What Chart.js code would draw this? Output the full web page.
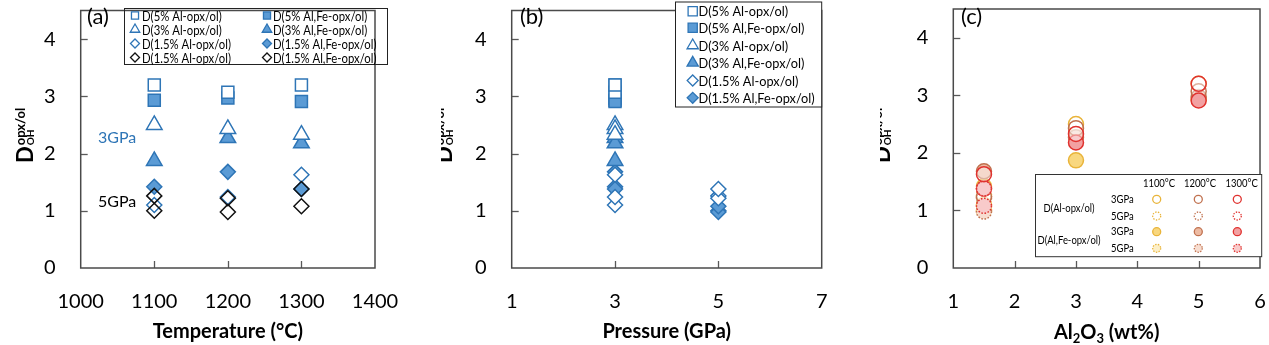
<!DOCTYPE html>
<html><head><meta charset="utf-8">
<script src="https://cdn.jsdelivr.net/npm/chart.js@4/dist/chart.umd.min.js"></script>
<style>
html,body{margin:0;padding:0;background:#fff;width:1269px;height:345px;overflow:hidden}
canvas{position:absolute;top:0}
</style></head><body>
<canvas id="ca" style="left:0"></canvas>
<canvas id="cb" style="left:441px"></canvas>
<canvas id="cc" style="left:880px"></canvas>
<script>
// ---------- categories ----------
const temperatures = [1100, 1200, 1300];   // °C
const pressures = [3, 5];                  // GPa
const al2o3 = [5, 3, 1.5];                 // wt% Al2O3 of the 5%, 3%, 1.5% Al-opx
// ---------- series values: D_OH(opx/ol), one value per temperature ----------
const d5Al_3GPa    = [3.20, 3.07, 3.20];
const d5AlFe_3GPa  = [2.93, 2.97, 2.91];
const d3Al_3GPa    = [2.50, 2.43, 2.33];
const d3AlFe_3GPa  = [1.87, 2.27, 2.18];
const d15Al_3GPa   = [1.10, 1.24, 1.63];
const d15AlFe_3GPa = [1.42, 1.68, 1.38];
const d15Al_5GPa   = [1.26, 1.22, 1.38];
const d15AlFe_5GPa = [1.00, 0.98, 1.08];
// ---------- tick labels ----------
const yTicks  = [0, 1, 2, 3, 4];
const xTicksA = [1000, 1100, 1200, 1300, 1400];
const xTicksB = [1, 3, 5, 7];
const xTicksC = [1, 2, 3, 4, 5, 6];
// ---------- labels ----------
const seriesLabels = ['D(5% Al-opx/ol)','D(5% Al,Fe-opx/ol)','D(3% Al-opx/ol)','D(3% Al,Fe-opx/ol)','D(1.5% Al-opx/ol)','D(1.5% Al,Fe-opx/ol)'];
const tempLabels = ['1100°C','1200°C','1300°C'];
const pressureLabels = ['3GPa','5GPa'];

// ---------- styles ----------
const FONT = "Lato, 'Open Sans', 'DejaVu Sans', sans-serif";
const BLUE = '#2E75B6', BLUE_FILL = '#5B9BD5', BLK = '#111';
const SQ = 8.5, TRI = 9, DIA = 7.5, CIR = 7.5;
const tempColors = [
  {bc:'#E9B43A', f3:'#F8D77F', f5:'#FCEFC8'},
  {bc:'#C0714F', f3:'#EDBBA3', f5:'#F7DDD0'},
  {bc:'#E0322F', f3:'#F2A1A2', f5:'#F8CACA'}
];

function ds(label, data, ps, r, bg, bc, extra) {
  return Object.assign({label, data, pointStyle:ps, pointRadius:r, pointHoverRadius:r,
    backgroundColor:bg, borderColor:bc, pointBorderWidth:1.5, borderWidth:1.5, showLine:false}, extra||{});
}
const byT = arr => temperatures.map((t,i)=>({x:t, y:arr[i]}));
const atP = (p, arr) => arr.map(v=>({x:p, y:v}));

// ---------- panel A datasets (first = drawn on top) ----------
const dsA = [
  ds('D(1.5% Al-opx/ol) 5GPa', byT(d15Al_5GPa), 'rectRot', DIA, 'rgba(255,255,255,0)', BLK),
  ds('D(1.5% Al,Fe-opx/ol) 5GPa', byT(d15AlFe_5GPa), 'rectRot', DIA, 'rgba(255,255,255,0)', BLK),
  ds(seriesLabels[4], byT(d15Al_3GPa), 'rectRot', DIA, '#fff', BLUE),
  ds(seriesLabels[5], byT(d15AlFe_3GPa), 'rectRot', DIA, BLUE_FILL, BLUE),
  ds(seriesLabels[2], byT(d3Al_3GPa), 'triangle', TRI, '#fff', BLUE),
  ds(seriesLabels[3], byT(d3AlFe_3GPa), 'triangle', TRI, BLUE_FILL, BLUE),
  ds(seriesLabels[0], byT(d5Al_3GPa), 'rect', SQ, '#fff', BLUE),
  ds(seriesLabels[1], byT(d5AlFe_3GPa), 'rect', SQ, BLUE_FILL, BLUE)
];
// ---------- panel B datasets ----------
const dsB = [
  ds(seriesLabels[0], atP(pressures[0], d5Al_3GPa), 'rect', SQ, '#fff', BLUE),
  ds(seriesLabels[1], atP(pressures[0], d5AlFe_3GPa), 'rect', SQ, BLUE_FILL, BLUE),
  ds(seriesLabels[2], atP(pressures[0], d3Al_3GPa), 'triangle', TRI, '#fff', BLUE),
  ds(seriesLabels[3], atP(pressures[0], d3AlFe_3GPa), 'triangle', TRI, BLUE_FILL, BLUE),
  ds(seriesLabels[4], atP(pressures[0], d15Al_3GPa).concat(atP(pressures[1], d15Al_5GPa)), 'rectRot', DIA, '#fff', BLUE),
  ds(seriesLabels[5], atP(pressures[0], d15AlFe_3GPa).concat(atP(pressures[1], d15AlFe_5GPa)), 'rectRot', DIA, BLUE_FILL, BLUE)
];
// ---------- panel C datasets (1300 °C first so it lies on top) ----------
const dsC = [];
[2,1,0].forEach(i=>{
  const t = temperatures[i], c = tempColors[i];
  dsC.push(ds('D(Al-opx/ol) 3GPa '+t, [{x:al2o3[0],y:d5Al_3GPa[i]},{x:al2o3[1],y:d3Al_3GPa[i]},{x:al2o3[2],y:d15Al_3GPa[i]}], 'circle', CIR, 'rgba(255,255,255,0.45)', c.bc));
  dsC.push(ds('D(Al-opx/ol) 5GPa '+t, [{x:al2o3[2],y:d15Al_5GPa[i]}], 'circle', CIR, 'rgba(255,255,255,0.45)', c.bc, {dotted:true}));
  dsC.push(ds('D(Al,Fe-opx/ol) 3GPa '+t, [{x:al2o3[0],y:d5AlFe_3GPa[i]},{x:al2o3[1],y:d3AlFe_3GPa[i]},{x:al2o3[2],y:d15AlFe_3GPa[i]}], 'circle', CIR, c.f3, c.bc));
  dsC.push(ds('D(Al,Fe-opx/ol) 5GPa '+t, [{x:al2o3[2],y:d15AlFe_5GPa[i]}], 'circle', CIR, c.f5, c.bc, {dotted:true}));
});

// ---------- drawing helpers ----------
function txt(ctx, s, x, y, size, color, opt) {
  opt = opt || {};
  ctx.font = (opt.bold?'bold ':'') + size + 'px ' + FONT;
  ctx.fillStyle = color; ctx.textAlign = opt.align || 'left'; ctx.textBaseline = opt.base || 'middle';
  const w = ctx.measureText(s).width;
  if (opt.sq) ctx.fillText(s, x, y, w*opt.sq); else ctx.fillText(s, x, y);
}
function marker(ctx, st, x, y, r, dotted) {
  ctx.save();
  ctx.fillStyle = st.backgroundColor; ctx.strokeStyle = st.borderColor; ctx.lineWidth = 1.3;
  if (dotted) ctx.setLineDash([1.4,1.4]);
  Chart.helpers.drawPoint(ctx, {pointStyle: st.pointStyle, radius: r, rotation:0, borderWidth:1.3}, x, y);
  ctx.restore();
}
function yTitle(ctx, bx, by) {
  ctx.save();
  ctx.translate(bx, by); ctx.rotate(-Math.PI/2);
  ctx.fillStyle = '#000'; ctx.textAlign='left'; ctx.textBaseline='alphabetic';
  ctx.font = 'bold 22px ' + FONT; ctx.fillText('D', 0, 0);
  const w = ctx.measureText('D').width + 1;
  ctx.font = 'bold 13px ' + FONT; ctx.fillText('opx/ol', w, -8);
  ctx.font = 'bold 10px ' + FONT; ctx.fillText('OH', w, 1);
  ctx.restore();
}

const decoCfg = {
  ca: {letter:[87,17], yt:[33,163], xTicks:xTicksA, draw(ctx){
        txt(ctx, pressureLabels[0], 98, 138, 16, BLUE);
        txt(ctx, pressureLabels[1], 98, 202, 16, '#000');
        ctx.strokeStyle='#222'; ctx.lineWidth=1; ctx.strokeRect(124.5, 8.5, 263, 56);
        const rows=[15,29,43,57];
        const pairs=[[6,7],[4,5],[2,3],[0,1]];
        const names=[[seriesLabels[0],seriesLabels[1]],[seriesLabels[2],seriesLabels[3]],[seriesLabels[4],seriesLabels[5]],[seriesLabels[4],seriesLabels[5]]];
        const rs={rect:5,triangle:5.5,rectRot:4.5};
        rows.forEach((y,k)=>{
          [0,1].forEach(c=>{
            const st=dsA[pairs[k][c]]; const mx=c?267:135, tx=c?273:142;
            marker(ctx, st, mx, y+0.5, rs[st.pointStyle]);
            txt(ctx, names[k][c], tx, y+1, 14, '#000', {sq:0.81});
          });
        });
      }},
  cb: {letter:[79,17], yt:[11,163], xTicks:xTicksB, draw(ctx){
        ctx.fillStyle='#fff'; ctx.fillRect(234,2,146.7,105);
        ctx.strokeStyle='#222'; ctx.lineWidth=1; ctx.strokeRect(234.5,2,146.2,105);
        const rows=[10.7,27.3,45,62.3,80,97.3];
        const rs={rect:6.5,triangle:6.5,rectRot:5.5};
        rows.forEach((y,k)=>{
          const st=dsB[k];
          marker(ctx, st, 251.7, y+0.5, rs[st.pointStyle]);
          txt(ctx, st.label, 257.5, y+1, 14, '#000', {sq:0.91});
        });
      }},
  cc: {letter:[81,17], yt:[10,163], xTicks:xTicksC, draw(ctx, chart){
        // x title with subscripts
        const ca=chart.chartArea, cx=(ca.left+ca.right)/2, y=333;
        ctx.font='bold 20px '+FONT; const wA=ctx.measureText('Al').width, wO=ctx.measureText('O').width, wR=ctx.measureText(' (wt%)').width;
        ctx.font='bold 13px '+FONT; const w2=ctx.measureText('2').width, w3=ctx.measureText('3').width;
        let x=cx-(wA+w2+wO+w3+wR)/2;
        txt(ctx,'Al',x,y,20,'#000',{bold:true}); x+=wA;
        txt(ctx,'2',x,y+6,13,'#000',{bold:true}); x+=w2;
        txt(ctx,'O',x,y,20,'#000',{bold:true}); x+=wO;
        txt(ctx,'3',x,y+6,13,'#000',{bold:true}); x+=w3;
        txt(ctx,' (wt%)',x,y,20,'#000',{bold:true});
        // legend table
        ctx.fillStyle='#fff'; ctx.fillRect(155,174,226.7,82.7);
        ctx.strokeStyle='#333'; ctx.lineWidth=1; ctx.strokeRect(155.5,174.5,226.2,82.2);
        const colX=[276.7,318.3,357.3], hdrX=[279,320,361.7];
        tempLabels.forEach((s,i)=>txt(ctx,s,hdrX[i],183,11,'#000',{align:'center',sq:0.86}));
        const rowsY=[199.3,216,231.7,248.3];
        rowsY.forEach((yy,k)=>{
          txt(ctx,pressureLabels[k%2],231,yy,11,'#000',{sq:0.86});
          colX.forEach((xx,i)=>{
            const c=tempColors[i];
            const fill = k<2 ? '#fff' : k===2 ? c.f3 : c.f5;
            marker(ctx,{pointStyle:'circle',backgroundColor:fill,borderColor:c.bc},xx,yy,4,k%2===1);
          });
        });
        txt(ctx,'D(Al-opx/ol)',189,208,11,'#000',{align:'center',sq:0.86});
        txt(ctx,'D(Al,Fe-opx/ol)',189,240,11,'#000',{align:'center',sq:0.86});
      }}
};
const letters = {ca:'(a)', cb:'(b)', cc:'(c)'};

const deco = {
  id:'deco',
  beforeDatasetDraw(chart, args){ const d=chart.data.datasets[args.index]; if(d.dotted) chart.ctx.setLineDash([1.6,1.6]); },
  afterDatasetDraw(chart){ chart.ctx.setLineDash([]); },
  beforeDatasetsDraw(chart){
    const cfg=decoCfg[chart.canvas.id], ctx=chart.ctx, ca=chart.chartArea, xs=chart.scales.x, ys=chart.scales.y;
    ctx.save();
    ctx.strokeStyle='#595959'; ctx.lineWidth=1.3;
    cfg.xTicks.forEach(v=>{ if(v===xs.min||v===xs.max) return; const p=Math.round(xs.getPixelForValue(v))+0.5;
      ctx.beginPath(); ctx.moveTo(p,ca.bottom); ctx.lineTo(p,ca.bottom-7); ctx.stroke(); });
    yTicks.forEach(v=>{ if(v===ys.min) return; const p=Math.round(ys.getPixelForValue(v))+0.5;
      ctx.beginPath(); ctx.moveTo(ca.left,p); ctx.lineTo(ca.left+7,p); ctx.stroke(); });
    ctx.strokeStyle='#4a4a4a'; ctx.lineWidth=1.5;
    ctx.strokeRect(ca.left, ca.top, ca.right-ca.left, ca.bottom-ca.top);
    txt(ctx, letters[chart.canvas.id], cfg.letter[0], cfg.letter[1], 22, '#000');
    yTitle(ctx, cfg.yt[0], cfg.yt[1]);
    ctx.restore();
  },
  afterDraw(chart){
    const cfg=decoCfg[chart.canvas.id], ctx=chart.ctx;
    ctx.save(); cfg.draw(ctx, chart); ctx.restore();
  }
};

function build(id, cw, leftW, padR, xMin, xMax, xTicks, xTitle, datasets) {
  const cv=document.getElementById(id); cv.width=cw; cv.height=345;
  return new Chart(cv, {
    type:'scatter',
    data:{datasets},
    options:{
      responsive:false, animation:false, devicePixelRatio:1,
      layout:{padding:{left:0,right:padR,top:2,bottom:0}},
      plugins:{legend:{display:false}, tooltip:{enabled:false}},
      scales:{
        x:{type:'linear', min:xMin, max:xMax,
          afterBuildTicks:s=>{ s.ticks = xTicks.map(v=>({value:v})); },
          afterFit:s=>{ s.height=77; s.paddingLeft=0; s.paddingRight=0; },
          grid:{display:false, drawTicks:false}, border:{display:false},
          ticks:{padding:22, color:'#000', font:{family:FONT,size:20}, callback:v=>String(v), maxRotation:0, autoSkip:false},
          title:{display:!!xTitle, text:xTitle||'', color:'#000', font:{family:FONT,size:20,weight:'bold'}, padding:{top:0,bottom:1}}},
        y:{type:'linear', min:0, max:4.5,
          afterBuildTicks:s=>{ s.ticks = yTicks.map(v=>({value:v})); },
          afterFit:s=>{ s.width=leftW; s.paddingTop=0; s.paddingBottom=0; },
          grid:{display:false, drawTicks:false}, border:{display:false},
          ticks:{padding:25, color:'#000', font:{family:FONT,size:20}, callback:v=>String(v)}}
      }
    },
    plugins:[deco]
  });
}
build('ca', 441, 80.7, 66, 1000, 1400, xTicksA, 'Temperature (°C)', dsA);
build('cb', 439, 70.7, 58.3, 1, 7, xTicksB, 'Pressure (GPa)', dsB);
build('cc', 389, 73.3, 7.3, 1, 6, xTicksC, '', dsC);
</script>
</body></html>
